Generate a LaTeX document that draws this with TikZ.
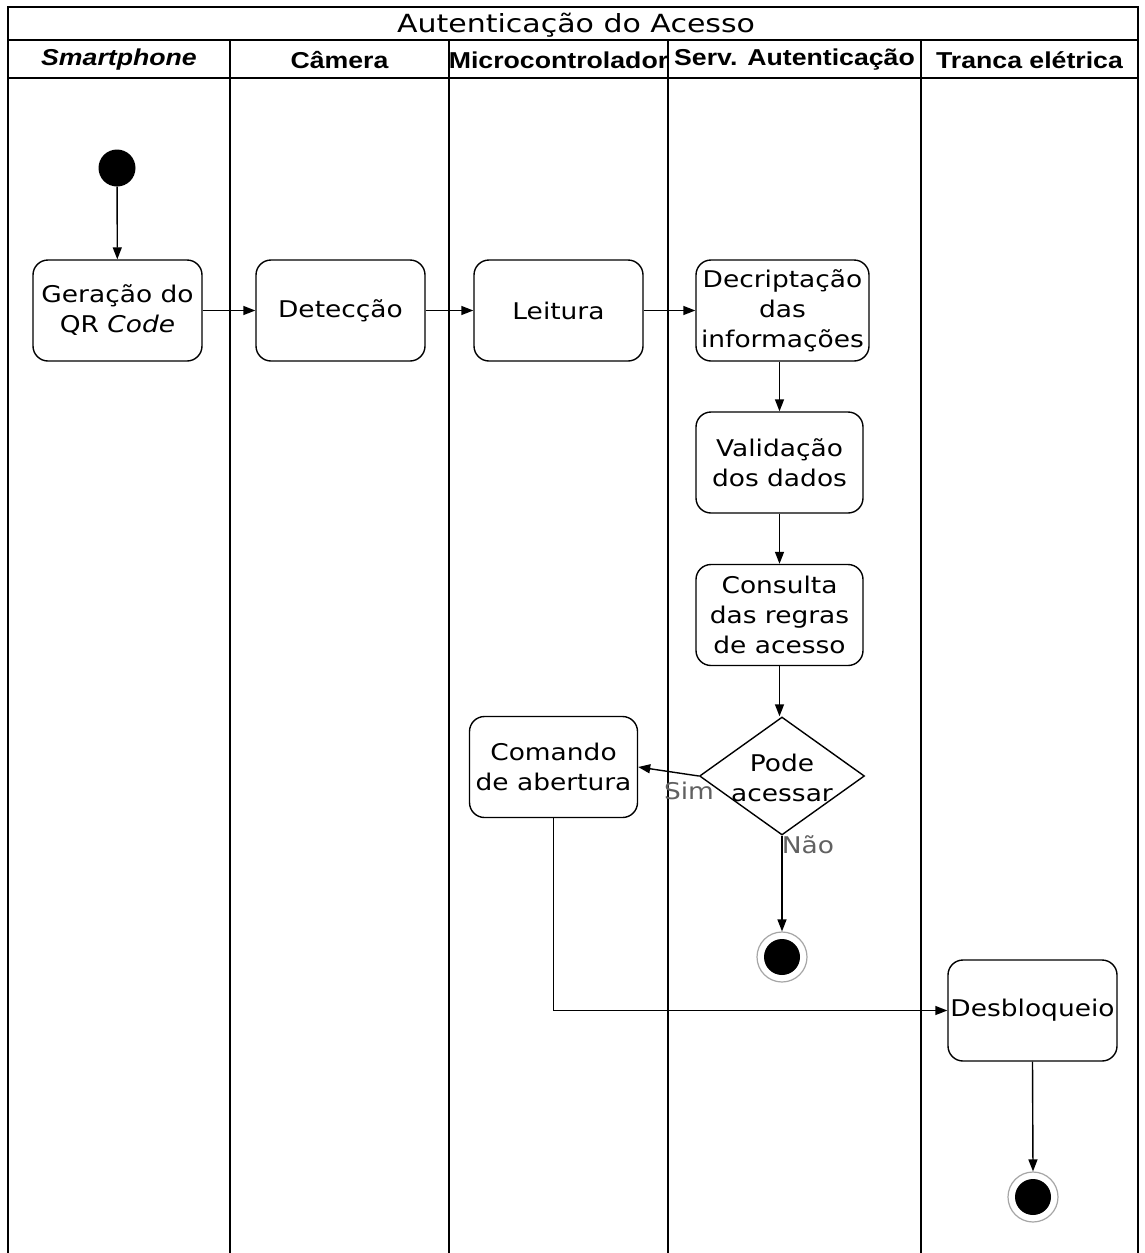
\documentclass[tikz,border=0pt]{standalone}
\usepackage{fontspec}
\setmainfont[FakeStretch=1.15]{DejaVu Sans}
\newfontfamily\ttlfont[FakeStretch=1.2]{DejaVu Sans}
\newfontfamily\hdrfont[FakeStretch=1.16]{Liberation Sans}
\usetikzlibrary{shapes.geometric,arrows.meta}
\begin{document}
\begin{tikzpicture}[x=1pt,y=-1pt,
  act/.style={draw, line width=1.4pt, rounded corners=15pt, minimum width=169pt, minimum height=101pt,
    align=center, inner sep=0pt, font=\fontsize{23}{30}\selectfont},
  hdr/.style={font=\hdrfont\bfseries\fontsize{23}{27}\selectfont},
  lane/.style={line width=1.8pt},
  flow/.style={line width=1.4pt, -{Triangle[length=12pt,width=9pt]}},
  glabel/.style={text=black!62, font=\fontsize{23}{28}\selectfont, inner sep=0pt}
]
\useasboundingbox (0,0) rectangle (1144,1253);
\fill[white] (0,0) rectangle (1144,1253);
% frame and lanes
\draw[lane] (8,1253) -- (8,7) -- (1138,7) -- (1138,1253);
\draw[lane] (8,40) -- (1138,40);
\draw[lane] (8,78) -- (1138,78);
\foreach \x in {230,449,668,921} \draw[lane] (\x,40) -- (\x,1253);
\node[font=\ttlfont\fontsize{25}{28}\selectfont] (title) at (576,25) {Autenticação do Acesso};
\node[hdr] (h1) at (119,60) {\itshape Smartphone};
\node[hdr] (h2) at (339.5,60) {Câmera};
\node[hdr] (h3) at (558.5,60) {Microcontrolador};
\node[hdr] (h4) at (794.5,60) {Serv. Autenticação};
\node[hdr] (h5) at (1029.5,60) {Tranca elétrica};
% nodes
\node[circle, fill=black, minimum size=37pt, inner sep=0pt] (start) at (117,168) {};
\node[act] (ger) at (117.5,310.5) {Geração do\\QR \textit{Code}};
\node[act] (det) at (340.5,310.5) {Detecção};
\node[act] (lei) at (558.5,310.5) {Leitura};
\node[act, minimum width=173pt] (dec) at (782.5,310.5) {Decriptação\\das\\informações};
\node[act, minimum width=167pt] (val) at (779.5,462.5) {Validação\\dos dados};
\node[act, minimum width=167pt] (con) at (779.5,615) {Consulta\\das regras\\de acesso};
\node[diamond, draw, line width=1.4pt, minimum width=165pt, minimum height=118pt, inner sep=0pt] (dia) at (782,776) {};
\node[align=center, font=\fontsize{23}{30}\selectfont, inner sep=0pt] (diat) at (782,778) {Pode\\acessar};
\node[act, minimum width=168pt] (cmd) at (553.5,767) {Comando\\de abertura};
\node[act] (des) at (1032.5,1010.5) {Desbloqueio};
\node[circle, draw=black!35, line width=1.2pt, fill=white, minimum size=50pt, inner sep=0pt] (end1) at (782,957) {};
\node[circle, fill=black, minimum size=36pt, inner sep=0pt] (end1i) at (end1.center) {};
\node[circle, draw=black!35, line width=1.2pt, fill=white, minimum size=50pt, inner sep=0pt] (end2) at (1033,1197) {};
\node[circle, fill=black, minimum size=36pt, inner sep=0pt] (end2i) at (end2.center) {};
% connectors
\draw[flow] (start) -- (ger);
\draw[flow] (ger) -- (det);
\draw[flow] (det) -- (lei);
\draw[flow] (lei) -- (dec);
\draw[flow] (dec.south -| val.north) -- (val.north);
\draw[flow] (val) -- (con);
\draw[flow] (con.south) -- (dia.north -| con.south);
\draw[flow] (dia.west) -- (cmd.east);
\draw[flow] (dia.south) -- (end1.north);
\draw[flow] (cmd.south) |- (des.west);
\draw[flow] (des.south) -- (end2.north);
\node[glabel] (sim) at (689,791) {Sim};
\node[glabel] (nao) at (808,845) {Não};
\end{tikzpicture}
\end{document}
